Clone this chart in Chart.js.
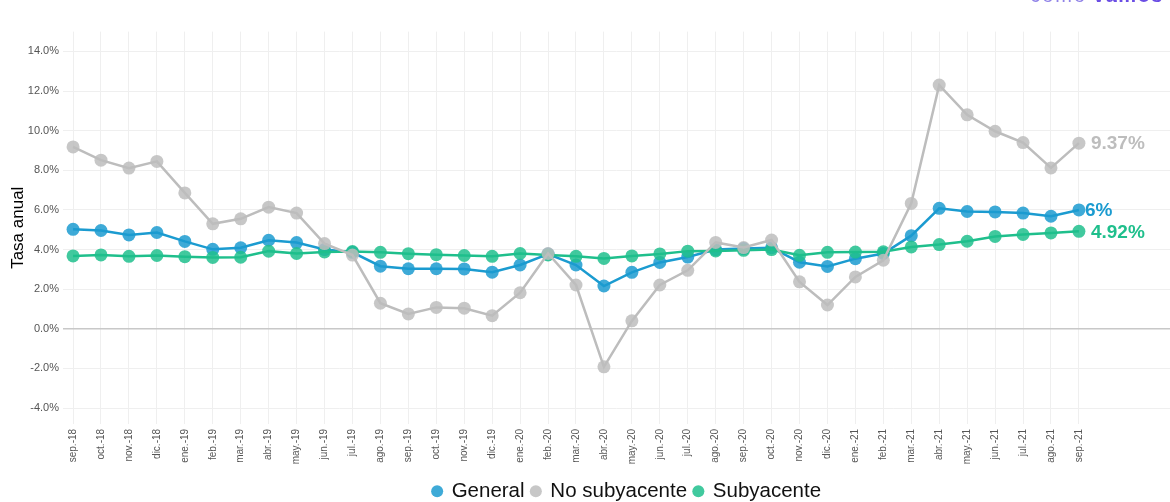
<!DOCTYPE html>
<html>
<head>
<meta charset="utf-8">
<script src="https://cdn.jsdelivr.net/npm/chart.js@4.4.1/dist/chart.umd.min.js"></script>
<style>
  html, body { margin: 0; padding: 0; background: #ffffff; }
  #wrap { position: relative; width: 1170px; height: 502px; overflow: hidden; }
  #logo { position: absolute; right: 6px; top: -15px; font: 20px 'Liberation Sans', Arial, sans-serif; line-height: 20px; color: #9083e8; letter-spacing: 2px; white-space: nowrap; }
  #logo b { color: #6a4de4; font-weight: bold; letter-spacing: 1.5px; margin-left: 6px; }
</style>
</head>
<body>
<div id="wrap">
  <canvas id="c" width="1170" height="502"></canvas>
  <div id="logo">como<b>vamos</b></div>
</div>
<script>
const categories = ['sep.-18','oct.-18','nov.-18','dic.-18','ene.-19','feb.-19','mar.-19','abr.-19','may.-19','jun.-19','jul.-19','ago.-19','sep.-19','oct.-19','nov.-19','dic.-19','ene.-20','feb.-20','mar.-20','abr.-20','may.-20','jun.-20','jul.-20','ago.-20','sep.-20','oct.-20','nov.-20','dic.-20','ene.-21','feb.-21','mar.-21','abr.-21','may.-21','jun.-21','jul.-21','ago.-21','sep.-21'];
const general = [5.02, 4.96, 4.74, 4.86, 4.41, 4.01, 4.09, 4.47, 4.35, 4.00, 3.86, 3.16, 3.03, 3.03, 3.02, 2.86, 3.22, 3.77, 3.22, 2.16, 2.85, 3.35, 3.62, 4.00, 4.05, 4.09, 3.36, 3.15, 3.54, 3.80, 4.70, 6.08, 5.92, 5.90, 5.84, 5.68, 6.00];
const noSubyacente = [9.18, 8.51, 8.11, 8.45, 6.86, 5.30, 5.55, 6.14, 5.84, 4.30, 3.72, 1.29, 0.75, 1.08, 1.04, 0.66, 1.82, 3.80, 2.21, -1.92, 0.40, 2.21, 2.95, 4.36, 4.10, 4.48, 2.37, 1.20, 2.62, 3.46, 6.33, 12.30, 10.80, 9.97, 9.40, 8.12, 9.37];
const subyacente = [3.68, 3.73, 3.66, 3.70, 3.64, 3.60, 3.61, 3.92, 3.80, 3.88, 3.90, 3.86, 3.79, 3.74, 3.70, 3.66, 3.80, 3.73, 3.66, 3.55, 3.68, 3.78, 3.92, 3.93, 3.96, 4.00, 3.71, 3.86, 3.87, 3.89, 4.13, 4.25, 4.42, 4.66, 4.76, 4.84, 4.92];
const endLabels = ['6%', '9.37%', '4.92%'];
const yTicks = [-4, -2, 0, 2, 4, 6, 8, 10, 12, 14];

const FONT = "'Liberation Sans', Arial, sans-serif";
const BLUE = '#1b9bd0', GREY = '#bdbdbd', GREEN = '#1fbf8c';

const toXY = arr => arr.map((v, i) => ({ x: i, y: v }));

function ds(label, data, color, order) {
  return {
    label, data: toXY(data), order,
    borderColor: color, backgroundColor: color + 'e0',
    pointBackgroundColor: color + 'd8', pointBorderColor: color + 'd8',
    pointRadius: 6.5, pointHoverRadius: 6.5, pointBorderWidth: 0,
    borderWidth: 2.5, tension: 0, fill: false
  };
}

const endLabelPlugin = {
  id: 'endLabels',
  afterDatasetsDraw(chart) {
    const ctx = chart.ctx;
    ctx.save();
    ctx.font = 'bold 19px ' + FONT;
    ctx.textBaseline = 'middle';
    ctx.textAlign = 'left';
    chart.data.datasets.forEach((d, i) => {
      const meta = chart.getDatasetMeta(i);
      const pt = meta.data[meta.data.length - 1];
      ctx.fillStyle = d.borderColor;
      const off = i === 0 ? 6 : 12;
      ctx.fillText(endLabels[i], pt.x + off, pt.y + 1);
    });
    ctx.restore();
  }
};

const legendShift = {
  id: 'legendShift',
  afterLayout(chart) {
    if (chart.legend) { chart.legend.left += 42; chart.legend.right += 42; }
  }
};

new Chart(document.getElementById('c'), {
  type: 'line',
  data: {
    datasets: [
      ds('General', general, BLUE, 2),
      ds('No subyacente', noSubyacente, GREY, 0),
      ds('Subyacente', subyacente, GREEN, 1)
    ]
  },
  options: {
    responsive: false,
    animation: false,
    layout: { autoPadding: false, padding: { top: 31.6, right: 0, left: 0, bottom: -9.4 } },
    plugins: {
      tooltip: { enabled: false },
      legend: {
        position: 'bottom',
        labels: {
          usePointStyle: true, pointStyle: 'circle', boxWidth: 8.5, boxHeight: 8.5,
          padding: 7, color: '#111', font: { family: FONT, size: 20.5 },
          sort: (a, b) => a.datasetIndex - b.datasetIndex
        }
      }
    },
    scales: {
      x: {
        type: 'linear', min: -0.36, max: 39.26,
        afterBuildTicks: s => { s.ticks = categories.map((c, i) => ({ value: i })); },
        afterFit: s => { s.height = 50; s.paddingLeft = 0; s.paddingRight = 0; },
        border: { display: false },
        grid: { color: '#efefef', lineWidth: 1, drawTicks: false },
        ticks: {
          autoSkip: false, maxRotation: 90, minRotation: 90, padding: 5,
          color: '#555', font: { family: FONT, size: 10 },
          callback: v => categories[v]
        }
      },
      y: {
        min: -4.8, max: 15,
        afterBuildTicks: s => { s.ticks = yTicks.map(v => ({ value: v })); },
        afterFit: s => { s.width = 63; s.paddingTop = 0; s.paddingBottom = 0; },
        border: { display: false },
        grid: {
          drawTicks: false,
          color: c => c.tick && c.tick.value === 0 ? '#c8c8c8' : '#efefef',
          lineWidth: c => c.tick && c.tick.value === 0 ? 1.5 : 1
        },
        ticks: {
          padding: 4, color: '#555', font: { family: FONT, size: 11 },
          callback: v => v.toFixed(1) + '%'
        },
        title: { display: true, text: 'Tasa anual', color: '#000', font: { family: FONT, size: 17 }, padding: { top: 8, bottom: 0 } }
      }
    }
  },
  plugins: [endLabelPlugin, legendShift]
});
</script>
</body>
</html>
